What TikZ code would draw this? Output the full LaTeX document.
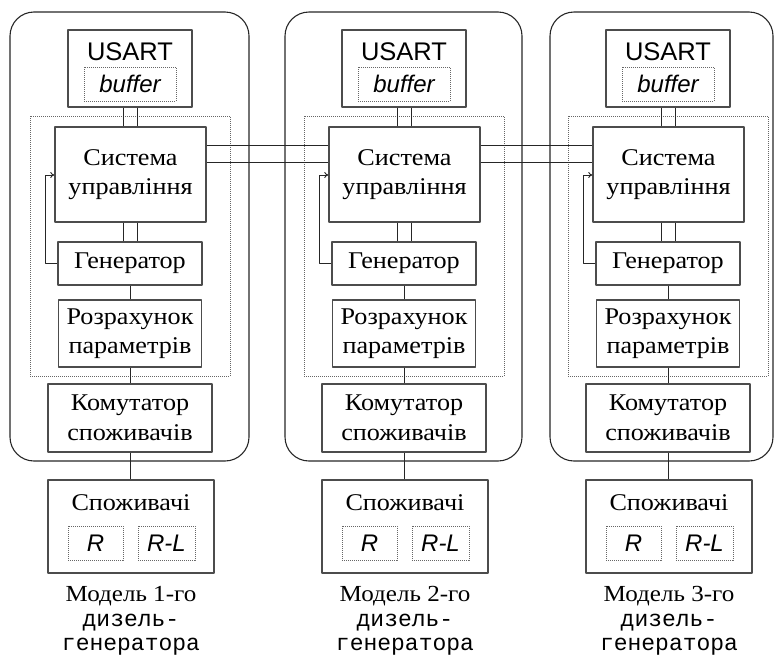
\documentclass[tikz,border=0pt]{standalone}
\usepackage{fontspec}
\setmainfont[FakeStretch=1.09]{Liberation Serif}
\setsansfont{Liberation Sans}
\setmonofont{Liberation Mono}
\usetikzlibrary{arrows.meta}
\begin{document}
\begin{tikzpicture}[x=1pt, y=-1pt, line join=bevel,
  box/.style={draw=black!70, line width=1.4pt, inner sep=0pt, align=center,
    font=\fontsize{24}{29.5}\selectfont},
  inbox/.style={draw=black!60, densely dotted, line width=1pt, inner sep=0pt,
    font=\sffamily\itshape\fontsize{24}{27}\selectfont},
  modframe/.style={draw=black!85, line width=1.1pt, rounded corners=24pt},
  link/.style={draw=black!85, line width=0.9pt},
  caption/.style={align=center, font=\fontsize{23}{24.5}\selectfont}]

\useasboundingbox (0,0) rectangle (775,659);

% three models of the diesel generator
\foreach \c/\l/\r/\n in {130/10/249/1, 404/285/522/2, 668/550/773/3}{
  \draw[modframe] (\l,12) rectangle (\r,461);
  \draw[inbox] (\c-100,116) rectangle (\c+100,376);

  \node[box, minimum width=124, minimum height=77] (usart\n) at (\c,68.5) {};
  \node[font=\sffamily\fontsize{25.5}{28}\selectfont, inner sep=0pt] (usartname\n) at (\c,52) {USART};
  \node[inbox, minimum width=92, minimum height=34] (buf\n) at (\c,84) {buffer};

  \node[box, minimum width=151, minimum height=95] (sys\n) at (\c+0.5,174.5) {Система\\управління};
  \node[box, minimum width=144, minimum height=43] (gen\n) at (\c,263.5) {Генератор};
  \node[box, minimum width=143, minimum height=67] (roz\n) at (\c,333.5) {Розрахунок\\параметрів};
  \node[box, minimum width=164, minimum height=68] (com\n) at (\c,418) {Комутатор\\споживачів};

  \node[box, minimum width=166, minimum height=93] (cons\n) at (\c+1,526.5) {};
  \node[font=\fontsize{24}{27}\selectfont, inner sep=0pt] (consname\n) at (\c+1,503) {Споживачі};
  \node[inbox, minimum width=55, minimum height=34] (res\n) at (\c-34.5,543) {R};
  \node[inbox, minimum width=57, minimum height=34] (rl\n) at (\c+36.5,543) {R-L};

  \node[caption] (cap\n) at (\c+1,621) {Модель \n-го\\{\ttfamily дизель-}\\{\ttfamily генератора}};

  \draw[link] ([xshift=-7pt]usart\n.south) -- ([xshift=-7pt]sys\n.north -| usart\n.south);
  \draw[link] ([xshift=7pt]usart\n.south) -- ([xshift=7pt]sys\n.north -| usart\n.south);
  \draw[link] ([xshift=-7pt]sys\n.south -| gen\n.north) -- ([xshift=-7pt]gen\n.north);
  \draw[link] ([xshift=7pt]sys\n.south -| gen\n.north) -- ([xshift=7pt]gen\n.north);
  \draw[link, -{To[length=4pt, width=6pt]}] (gen\n.west) -| (\c-85,175) -- (sys\n.west |- 0,175);
  \draw[link] (gen\n.south) -- (roz\n.north);
  \draw[link] (roz\n.south) -- (com\n.north);
  \draw[link] (com\n.south) -- (cons\n.north -| com\n.south);
}

% links between the control systems
\draw[link] (sys1.east |- 0,145) -- (sys2.west |- 0,145);
\draw[link] (sys1.east |- 0,162) -- (sys2.west |- 0,162);
\draw[link] (sys2.east |- 0,145) -- (sys3.west |- 0,145);
\draw[link] (sys2.east |- 0,162) -- (sys3.west |- 0,162);

\end{tikzpicture}
\end{document}
